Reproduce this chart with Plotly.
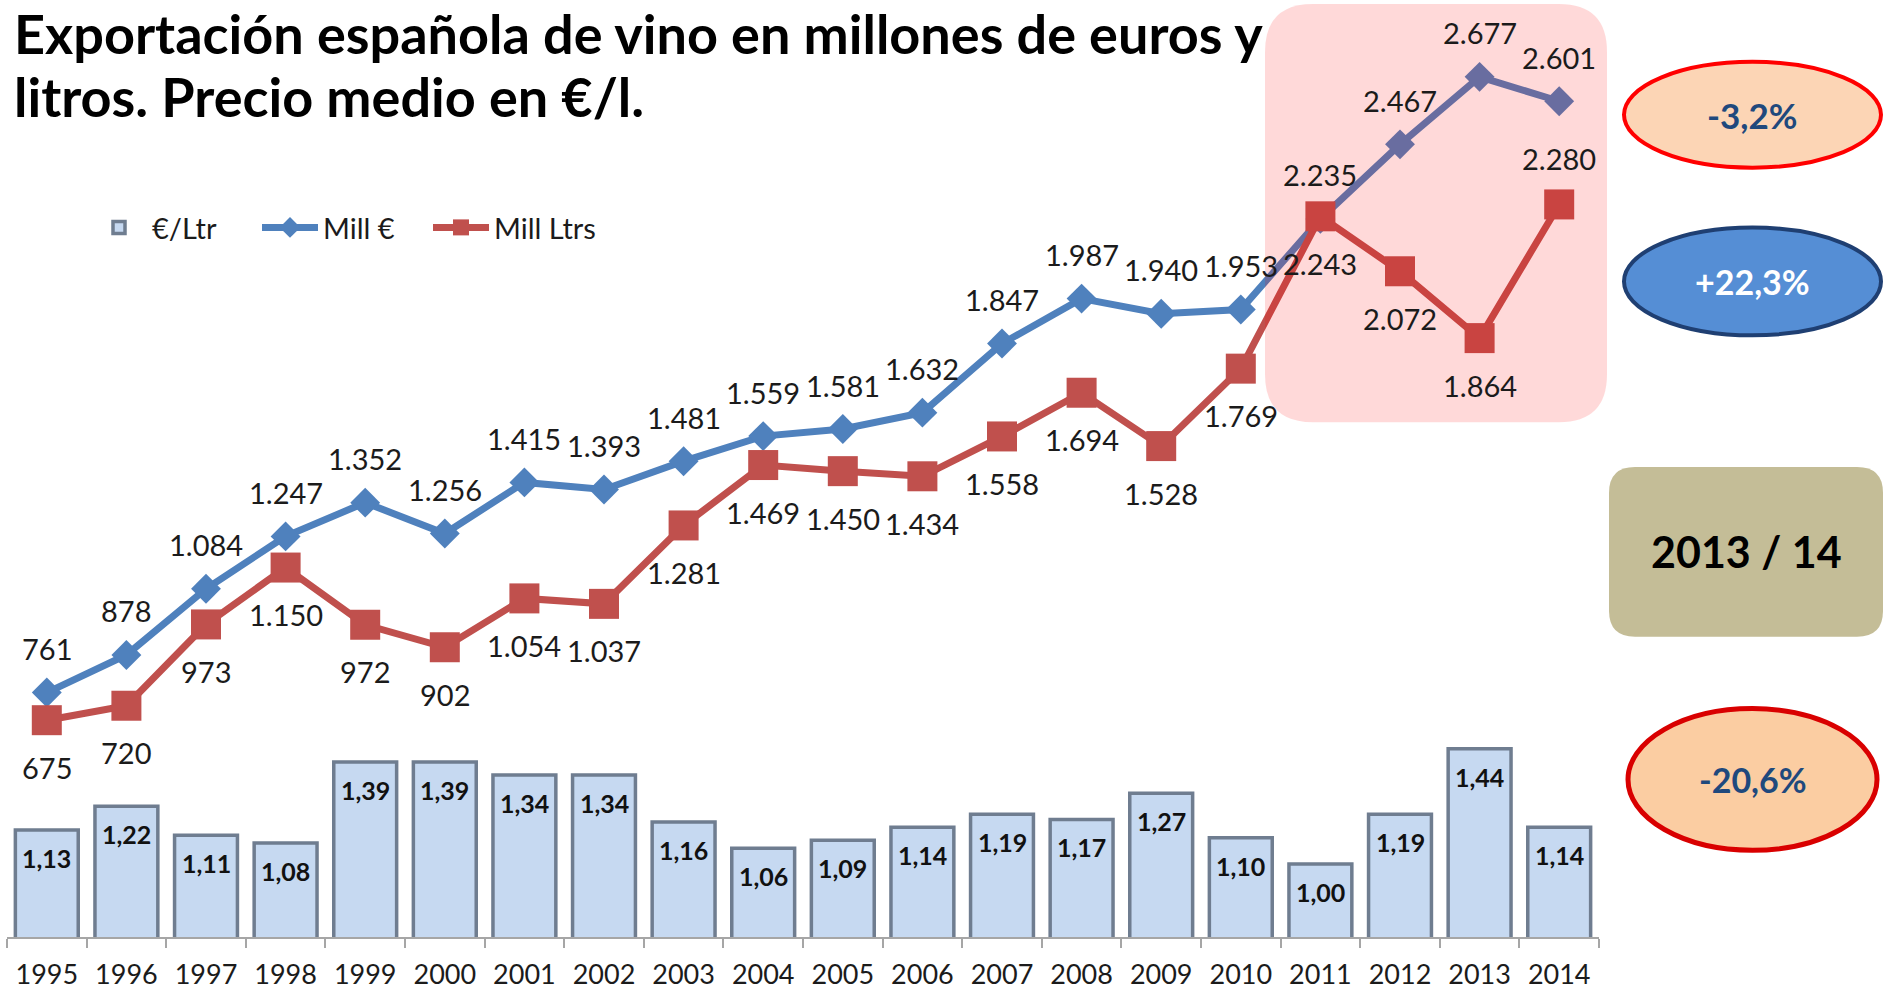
import plotly.graph_objects as go

# ---------------- data ----------------
years = [str(y) for y in range(1995, 2015)]
precio_eur_ltr = [1.13, 1.22, 1.11, 1.08, 1.39, 1.39, 1.34, 1.34, 1.16, 1.06,
                  1.09, 1.14, 1.19, 1.17, 1.27, 1.10, 1.00, 1.19, 1.44, 1.14]
mill_eur = [761, 878, 1084, 1247, 1352, 1256, 1415, 1393, 1481, 1559,
            1581, 1632, 1847, 1987, 1940, 1953, 2235, 2467, 2677, 2601]
mill_ltrs = [675, 720, 973, 1150, 972, 902, 1054, 1037, 1281, 1469,
             1450, 1434, 1558, 1694, 1528, 1769, 2243, 2072, 1864, 2280]
# label placement of the Mill Ltrs values (only 2014 sits above its point)
ltrs_label_above = [False] * 19 + [True]
series_names = ["€/Ltr", "Mill €", "Mill Ltrs"]
title_lines = ["Exportación española de vino en millones de euros y",
               "litros. Precio medio en €/l."]
callouts = ["-3,2%", "+22,3%", "2013 / 14", "-20,6%"]

# ---------------- geometry helpers ----------------
W, H = 1883, 990
FONT = "Lato"


def px(x):
    return x / W


def py(y):
    return 1 - y / H


def rounded_path(x0, y0, x1, y1, r):
    pts = [
        ("M", (x0 + r, y0)), ("L", (x1 - r, y0)), ("Q", (x1, y0), (x1, y0 + r)),
        ("L", (x1, y1 - r)), ("Q", (x1, y1), (x1 - r, y1)),
        ("L", (x0 + r, y1)), ("Q", (x0, y1), (x0, y1 - r)),
        ("L", (x0, y0 + r)), ("Q", (x0, y0), (x0 + r, y0)),
    ]
    out = []
    for p in pts:
        cmd = p[0]
        coords = " ".join(f"{px(a):.5f},{py(b):.5f}" for a, b in p[1:])
        out.append(f"{cmd} {coords}")
    return " ".join(out) + " Z"


def fmt_thousands(v):
    return f"{v:,}".replace(",", ".")


def fmt_dec(v):
    return f"{v:.2f}".replace(".", ",")


# plot area in pixels
PX_LEFT, PX_RIGHT, PX_BOTTOM, PX_TOP = 7, 1599, 939, 0
plot_h = PX_BOTTOM - PX_TOP
LINE_SCALE = 0.322      # px per unit (millions)
BAR_SCALE = 262.0       # px per unit (€/l)
BAR_MIN = 0.72

fig = go.Figure()

fig.add_trace(go.Bar(
    x=years, y=precio_eur_ltr, name=series_names[0],
    marker=dict(color="#C6D9F1", line=dict(color="#6F7D90", width=3.5)),
    yaxis="y", hoverinfo="skip",
))
fig.add_trace(go.Scatter(
    x=years, y=mill_eur, name=series_names[1], mode="lines+markers",
    line=dict(color="#4F81BD", width=7),
    marker=dict(symbol="diamond", size=23, color="#4F81BD"),
    yaxis="y2", hoverinfo="skip",
))
fig.add_trace(go.Scatter(
    x=years, y=mill_ltrs, name=series_names[2], mode="lines+markers",
    line=dict(color="#C0504D", width=7),
    marker=dict(symbol="square", size=30, color="#C0504D"),
    yaxis="y2", hoverinfo="skip",
))

annotations = []
label_color = "#1b1b1b"
for i, v in enumerate(mill_eur):
    annotations.append(dict(x=i, y=v, xref="x", yref="y2", text=fmt_thousands(v),
                            showarrow=False, xanchor="center", yanchor="middle", yshift=44,
                            font=dict(family=FONT, size=29, color=label_color)))
for i, (v, above) in enumerate(zip(mill_ltrs, ltrs_label_above)):
    annotations.append(dict(x=i, y=v, xref="x", yref="y2", text=fmt_thousands(v),
                            showarrow=False, xanchor="center", yanchor="middle",
                            yshift=46 if above else -47,
                            font=dict(family=FONT, size=29, color=label_color)))
for i, v in enumerate(precio_eur_ltr):
    annotations.append(dict(x=i, y=v, xref="x", yref="y", text=f"<b>{fmt_dec(v)}</b>",
                            showarrow=False, xanchor="center", yanchor="middle", yshift=-28,
                            font=dict(family=FONT, size=25, color="#111111")))

# title
annotations.append(dict(x=px(12), y=py(34), xref="paper", yref="paper", xanchor="left",
                        yanchor="middle", showarrow=False, text=f"<b>{title_lines[0]}</b>",
                        font=dict(family=FONT, size=54, color="#000000")))
annotations.append(dict(x=px(12), y=py(97), xref="paper", yref="paper", xanchor="left",
                        yanchor="middle", showarrow=False, text=f"<b>{title_lines[1]}</b>",
                        font=dict(family=FONT, size=54, color="#000000")))

# callout texts
callout_specs = [
    (callouts[0], (1624 + 1881) / 2, (62 + 168) / 2, 35, "#1F497D"),
    (callouts[1], (1624 + 1881) / 2, (228 + 336) / 2, 34, "#FFFFFF"),
    (callouts[2], (1609 + 1883) / 2, (468 + 638) / 2, 43, "#000000"),
    (callouts[3], (1628 + 1877) / 2, (710 + 852) / 2, 34, "#1F497D"),
]
for txt, cx, cy, sz, col in callout_specs:
    annotations.append(dict(x=px(cx), y=py(cy), xref="paper", yref="paper",
                            xanchor="center", yanchor="middle",
                            showarrow=False, text=f"<b>{txt}</b>",
                            font=dict(family=FONT, size=sz, color=col)))

shapes = [
    # highlighted 2011-2014 region (semi-transparent, on top of lines)
    dict(type="path", xref="paper", yref="paper", layer="above",
         path=rounded_path(1265, 4, 1607, 423, 48),
         fillcolor="rgba(255,0,0,0.15)", line=dict(width=0)),
    dict(type="circle", xref="paper", yref="paper", layer="above",
         x0=px(1624), x1=px(1881), y0=py(168), y1=py(62),
         fillcolor="#FCD5B5", line=dict(color="#FF0000", width=4)),
    dict(type="circle", xref="paper", yref="paper", layer="above",
         x0=px(1624), x1=px(1881), y0=py(336), y1=py(228),
         fillcolor="#558ED5", line=dict(color="#1F3F72", width=4)),
    dict(type="path", xref="paper", yref="paper", layer="above",
         path=rounded_path(1609, 468, 1883, 638, 26),
         fillcolor="#C4BD97", line=dict(width=0)),
    dict(type="circle", xref="paper", yref="paper", layer="above",
         x0=px(1628), x1=px(1877), y0=py(852), y1=py(710),
         fillcolor="#FBCDA2", line=dict(color="#D90000", width=5)),
]

fig.update_layout(
    width=W, height=H,
    margin=dict(l=0, r=0, t=0, b=0),
    paper_bgcolor="white", plot_bgcolor="rgba(0,0,0,0)",
    font=dict(family=FONT, color="#1b1b1b"),
    bargap=0.21,
    showlegend=True,
    legend=dict(orientation="h", x=px(86), y=py(228), xanchor="left", yanchor="middle",
                font=dict(family=FONT, size=29, color="#1b1b1b"),
                bgcolor="rgba(0,0,0,0)", itemwidth=56, traceorder="normal",
                entrywidth=100, entrywidthmode="pixels"),
    xaxis=dict(type="category", domain=[px(PX_LEFT), px(PX_RIGHT)],
               range=[-0.5, len(years) - 0.5], autorange=False,
               showline=True, linecolor="#A6A6A6", linewidth=1.5,
               ticks="outside", tickson="boundaries", ticklen=9, tickcolor="#A6A6A6",
               tickwidth=1.5, showgrid=False, zeroline=False, tickangle=0,
               tickfont=dict(family=FONT, size=27, color="#1b1b1b"),
               ticklabelstandoff=13),
    yaxis=dict(domain=[py(PX_BOTTOM), py(PX_TOP)], visible=False, showgrid=False,
               range=[BAR_MIN, BAR_MIN + plot_h / BAR_SCALE], autorange=False,
               fixedrange=True),
    yaxis2=dict(overlaying="y", visible=False, showgrid=False,
                range=[0, plot_h / LINE_SCALE], autorange=False, fixedrange=True),
    annotations=annotations,
    shapes=shapes,
)

fig.write_html("out.html", config={"displayModeBar": False},
               post_script="document.body.style.margin='0px';")
